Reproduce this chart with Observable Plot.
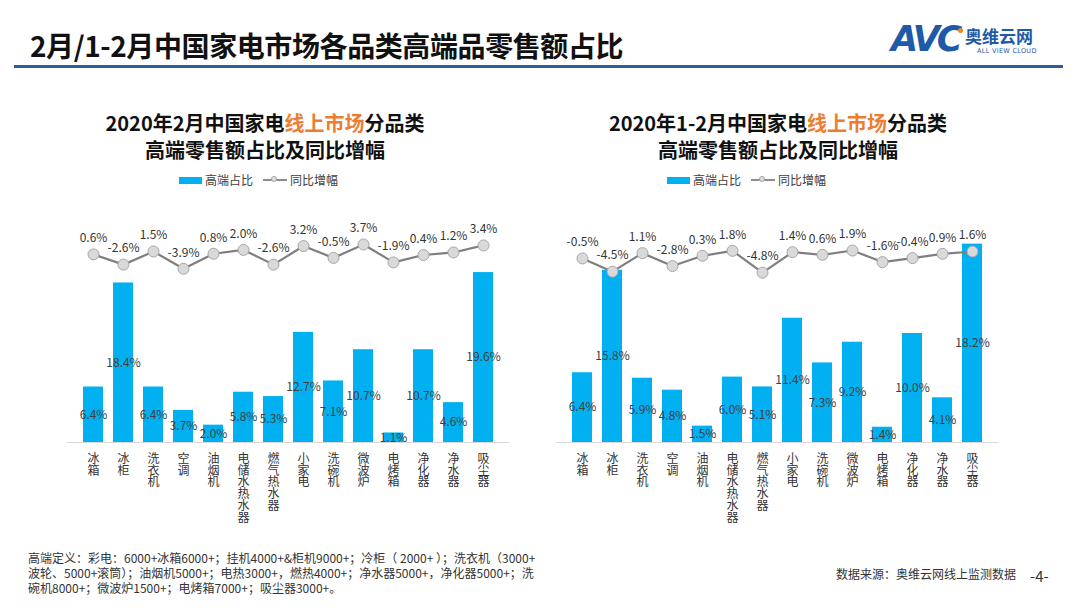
<!DOCTYPE html>
<html><head><meta charset="utf-8">
<script src="https://cdn.jsdelivr.net/npm/d3@7"></script>
<script src="https://cdn.jsdelivr.net/npm/@observablehq/plot@0.6"></script>
<style>
body{margin:0;background:#fff;font-family:"Noto Sans CJK SC","Noto Sans",sans-serif;}
#page{position:relative;width:1080px;height:608px;overflow:hidden;background:#fff}
.abs{position:absolute;white-space:nowrap;line-height:1;}
.ctitle{font-size:20px;font-weight:700;color:#111;text-align:center;width:460px;}
.ctitle .o{color:#ed7d31}
.leg{font-size:12px;color:#404040;display:flex;align-items:center;}
.leg .sw{display:inline-block;width:23px;height:7px;background:#00b0f0;margin-right:3px}
.leg .ln{position:relative;display:inline-block;width:24px;height:2px;background:#8c8c8c;margin:0 3px 0 10px}
.leg .ln i{position:absolute;left:8px;top:-3px;width:6px;height:6px;border-radius:50%;background:#e0e0e0;border:1px solid #a0a0a0;box-sizing:border-box}
.note{font-size:12px;color:#333;line-height:15px}
</style></head><body><div id="page">

<div class="abs" style="left:30px;top:31px;font-size:28px;font-weight:700;color:#111;letter-spacing:-0.4px">2月/1-2月中国家电市场各品类高端品零售额占比</div>
<div class="abs" style="left:14px;top:65px;width:1049px;height:3px;background:#2f5d9b"></div>
<!-- logo -->
<div class="abs" style="left:891px;top:22px;font-family:'DejaVu Sans';font-size:35px;font-weight:700;font-style:italic;color:#1e5aa8;letter-spacing:-3px">AVC</div>
<div class="abs" style="left:958px;top:28px;width:5px;height:5px;border-radius:50%;background:#f08a24"></div>
<div class="abs" style="left:965px;top:27px;font-size:17px;font-weight:700;color:#1e5aa8">奥维云网</div>
<div class="abs" style="left:977px;top:48px;font-family:'DejaVu Sans';font-size:6.5px;color:#1e5aa8;letter-spacing:0.3px">ALL VIEW CLOUD</div>

<div class="abs ctitle" style="left:35px;top:113px">2020年2月中国家电<span class="o">线上市场</span>分品类</div>
<div class="abs ctitle" style="left:35px;top:140px">高端零售额占比及同比增幅</div>
<div class="abs ctitle" style="left:548px;top:113px">2020年1-2月中国家电<span class="o">线上市场</span>分品类</div>
<div class="abs ctitle" style="left:548px;top:140px">高端零售额占比及同比增幅</div>

<div class="abs leg" style="left:179px;top:174px"><span class="sw"></span>高端占比<span class="ln"><i></i></span>同比增幅</div>
<div class="abs leg" style="left:667px;top:174px"><span class="sw"></span>高端占比<span class="ln"><i></i></span>同比增幅</div>

<div id="left" class="abs" style="left:0px;top:190px;width:540px;height:345px"></div>
<div id="right" class="abs" style="left:540px;top:190px;width:540px;height:345px"></div>

<div class="abs note" style="left:28px;top:550px">高端定义：彩电：6000+冰箱6000+；挂机4000+&amp;柜机9000+；冷柜（ 2000+ ）；洗衣机（3000+<br>波轮、5000+滚筒）；油烟机5000+；电热3000+，燃热4000+；净水器5000+，净化器5000+；洗<br>碗机8000+；微波炉1500+；电烤箱7000+；吸尘器3000+。</div>
<div class="abs" style="left:836px;top:568px;font-size:12px;color:#333">数据来源：奥维云网线上监测数据</div>
<div class="abs" style="left:1030px;top:568px;font-size:15px;color:#333">-4-</div>
</div>
<script>
const categories = ["冰箱","冰柜","洗衣机","空调","油烟机","电储水热水器","燃气热水器","小家电","洗碗机","微波炉","电烤箱","净化器","净水器","吸尘器"];
const febShare = [6.4,18.4,6.4,3.7,2.0,5.8,5.3,12.7,7.1,10.7,1.1,10.7,4.6,19.6];
const febYoY   = [0.6,-2.6,1.5,-3.9,0.8,2.0,-2.6,3.2,-0.5,3.7,-1.9,0.4,1.2,3.4];
const janFebShare = [6.4,15.8,5.9,4.8,1.5,6.0,5.1,11.4,7.3,9.2,1.4,10.0,4.1,18.2];
const janFebYoY   = [-0.5,-4.5,1.1,-2.8,0.3,1.8,-4.8,1.4,0.6,1.9,-1.6,-0.4,0.9,1.6];

const FONT = '"Noto Sans CJK SC","Noto Sans",sans-serif';
const pct = v => v.toFixed(1) + "%";

function makeChart(el, share, yoy, o) {
  const data = categories.map((c, i) => ({c, s: share[i], g: yoy[i]}));
  const W = 540, H = 345, base = 252;
  const common = {
    width: W, height: H,
    marginLeft: o.ml, marginRight: W - o.ml - 442,
    style: {background: "transparent", overflow: "visible", fontFamily: FONT}
  };
  const xs = {type: "band", domain: categories, padding: 0.35, axis: null};
  const bars = Plot.plot({
    ...common,
    marginTop: base - o.sMax * o.sPx, marginBottom: H - base,
    x: xs,
    y: {domain: [0, o.sMax], axis: null},
    marks: [
      Plot.barY(data, {x: "c", y: "s", fill: "#00b0f0"}),
      Plot.ruleY([0], {stroke: "#d9d9d9", strokeWidth: 1}),
      Plot.text(data, {x: "c", y: d => d.s / 2, text: d => pct(d.s), fontSize: 12, fill: "#404040"}),
      Plot.axisX({tickSize: 0, tickPadding: 10, fontSize: 12, fill: "#333", label: null})
    ]
  });
  // category labels are written vertically, one upright character under another
  d3.select(bars).selectAll('g[aria-label="x-axis tick label"] text')
    .attr("y", 0).attr("dy", null)
    .attr("text-anchor", "start")
    .style("writing-mode", "vertical-rl")
    .style("text-orientation", "upright")
    .style("letter-spacing", "-0.3px");
  const top = o.gTop;
  const line = Plot.plot({
    ...common,
    marginTop: top, marginBottom: H - top - 10 * o.gPx,
    x: xs,
    y: {domain: [-5, 5], axis: null},
    marks: [
      Plot.line(data, {x: "c", y: "g", stroke: "#7f7f7f", strokeWidth: 2.2}),
      Plot.dot(data, {x: "c", y: "g", r: 5.5, fill: "#d9d9d9", stroke: "#a6a6a6", strokeWidth: 1}),
      Plot.text(data, {x: "c", y: "g", text: d => pct(d.g), dy: -16, fontSize: 12, fill: "#333"})
    ]
  });
  bars.style.position = "absolute"; bars.style.left = "0"; bars.style.top = "0";
  line.style.position = "absolute"; line.style.left = "0"; line.style.top = "0";
  el.appendChild(bars);
  el.appendChild(line);
}

makeChart(document.getElementById("left"), febShare, febYoY, {ml: 67, sMax: 25, sPx: 8.67, gTop: 49.8, gPx: 3.2});
makeChart(document.getElementById("right"), janFebShare, janFebYoY, {ml: 16, sMax: 20, sPx: 10.9, gTop: 49.8, gPx: 3.3});
</script>
</body></html>
